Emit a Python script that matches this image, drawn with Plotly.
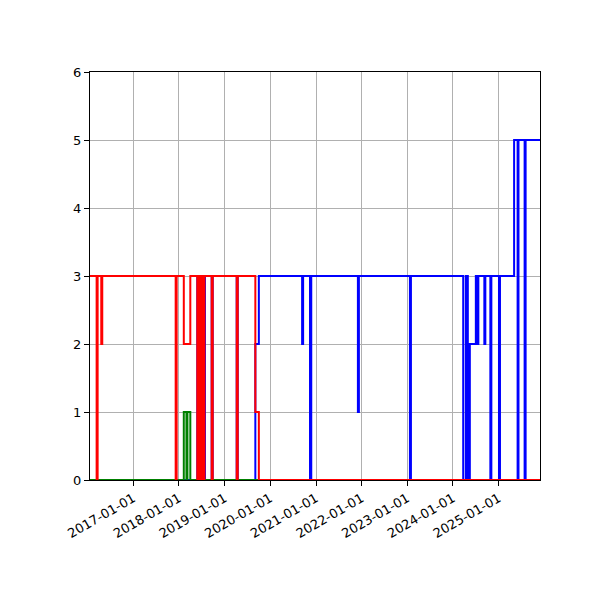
import plotly.graph_objects as go

# rango visible del eje x
X_START = "2016-01-21"
X_END = "2025-11-27"

# serie roja
red_dates = [
    "2016-01-21", "2016-03-14", "2016-03-22", "2016-04-20", "2016-04-28",
    "2017-12-06", "2017-12-14", "2018-02-09", "2018-04-02",
    "2018-05-28", "2018-05-31", "2018-06-03", "2018-06-06", "2018-06-09",
    "2018-06-12", "2018-06-15", "2018-06-18", "2018-06-21", "2018-06-24",
    "2018-06-27", "2018-06-30", "2018-07-03", "2018-07-06", "2018-07-09",
    "2018-07-12", "2018-07-15", "2018-07-18", "2018-07-21", "2018-07-24",
    "2018-07-28",
    "2018-09-20", "2018-09-28", "2019-04-08", "2019-04-16",
    "2019-09-04", "2019-10-02", X_END,
]
red_vals = [
    3, 0, 3, 2, 3,
    0, 3, 2, 3,
    0, 3, 0, 3, 0,
    3, 0, 3, 0, 3,
    0, 3, 0, 3, 0,
    3, 0, 3, 0, 3,
    3,
    0, 3, 0, 3,
    1, 0, 0,
]

# serie verde
green_dates = ["2016-01-21", "2018-02-09", "2018-03-02", "2018-03-10", "2018-04-02", X_END]
green_vals = [0, 1, 0, 1, 0, 0]

# serie azul
blue_dates = [
    "2016-01-21", "2018-05-28", "2018-07-28", "2018-09-20", "2018-09-28",
    "2019-04-08", "2019-04-16", "2019-09-04", "2019-10-02",
    "2020-09-12", "2020-09-20", "2020-11-14", "2020-11-24",
    "2021-12-02", "2021-12-10", "2023-01-22", "2023-01-30",
    "2024-03-23", "2024-04-13", "2024-04-29", "2024-05-15",
    "2024-07-02", "2024-07-10", "2024-07-22",
    "2024-09-08", "2024-09-16", "2024-10-26", "2024-11-03",
    "2025-01-03", "2025-01-11", "2025-05-04",
    "2025-06-01", "2025-06-08", "2025-07-27", "2025-08-04", X_END,
]
blue_vals = [
    0, 3, 0, 3, 0,
    3, 0, 2, 3,
    2, 3, 0, 3,
    1, 3, 0, 3,
    0, 3, 0, 2,
    3, 2, 3,
    2, 3, 0, 3,
    0, 3, 5,
    0, 5, 0, 5, 5,
]

year_ticks = [f"{y}-01-01" for y in range(2017, 2026)]

fig = go.Figure()
for dates, vals, color in [
    (blue_dates, blue_vals, "blue"),
    (green_dates, green_vals, "green"),
    (red_dates, red_vals, "red"),
]:
    fig.add_trace(go.Scatter(
        x=dates, y=vals, mode="lines", line=dict(color=color, width=2, shape="hv"),
        showlegend=False,
    ))

axis_common = dict(
    showline=True, linecolor="black", linewidth=1, mirror=True,
    showgrid=True, gridcolor="#b0b0b0", gridwidth=1,
    ticks="outside", ticklen=5, tickcolor="black", zeroline=False,
)
fig.update_xaxes(
    type="date", range=[X_START, X_END],
    tickvals=year_ticks, ticktext=year_ticks, tickangle=-30,
    **axis_common,
)
fig.update_yaxes(range=[0, 6], tickvals=list(range(7)), **axis_common)

# la pagina tiene 8px de margen en body
fig.update_layout(
    width=592, height=592,
    margin=dict(l=82, r=60, t=64, b=120),
    paper_bgcolor="white", plot_bgcolor="white",
    font=dict(family="DejaVu Sans", size=13, color="black"),
)

fig.write_html("out.html")
